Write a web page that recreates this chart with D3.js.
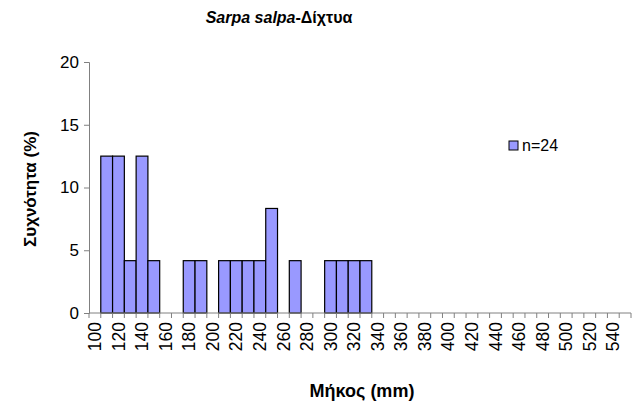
<!DOCTYPE html>
<html>
<head>
<meta charset="utf-8">
<script src="https://cdn.jsdelivr.net/npm/d3@7"></script>
<style>
  body { margin: 0; background: #fff; }
  text { font-family: "Liberation Sans", Arial, sans-serif; }
</style>
</head>
<body>
<div id="chart"></div>
<script>
// Data
const lengths = d3.range(100, 560, 10);          // length classes (mm)
const percent = [
    0, 12.5, 12.5, 4.17, 12.5, 4.17, 0, 0, 4.17, 4.17,
    0, 4.17, 4.17, 4.17, 4.17, 8.33, 0, 4.17, 0, 0,
    4.17, 4.17, 4.17, 4.17, 0, 0, 0, 0, 0, 0,
    0, 0, 0, 0, 0, 0, 0, 0, 0, 0,
    0, 0, 0, 0, 0, 0
];
const yTicks = [0, 5, 10, 15, 20];
const legendLabel = "n=24";

const width = 641;
const height = 405;
const margin = { top: 62, right: 10, bottom: 92, left: 89 };
const plotW = 631 - margin.left;
const plotH = height - margin.top - margin.bottom;

const svg = d3.select("#chart")
    .append("svg")
    .attr("width", width)
    .attr("height", height);

const g = svg.append("g")
    .attr("transform", `translate(${margin.left},${margin.top})`);

// Scales
const x = d3.scaleBand()
    .domain(lengths)
    .range([0, plotW])
    .padding(0);

const y = d3.scaleLinear()
    .domain([0, 20])
    .range([plotH, 0]);

// Bars
g.selectAll("rect.bar")
    .data(lengths.map((d, i) => ({ len: d, val: percent[i] })).filter(d => d.val > 0))
    .join("rect")
    .attr("class", "bar")
    .attr("x", d => x(d.len))
    .attr("y", d => y(d.val))
    .attr("width", x.bandwidth())
    .attr("height", d => y(0) - y(d.val))
    .attr("fill", "#9999ff")
    .attr("stroke", "#000")
    .attr("stroke-width", 1.2);

// Y axis
const yAxis = g.append("g")
    .call(d3.axisLeft(y).tickValues(yTicks).tickSize(5).tickPadding(5));
yAxis.select(".domain").attr("stroke", "#808080");
yAxis.selectAll(".tick line").attr("stroke", "#808080");
yAxis.selectAll("text")
    .attr("font-size", 17)
    .attr("fill", "#000")
    .style("font-family", "Liberation Sans, Arial, sans-serif");

// X axis: ticks on class boundaries, labels every second class
const xAxis = g.append("g").attr("transform", `translate(0,${plotH})`);
xAxis.append("line")
    .attr("x1", 0).attr("x2", plotW)
    .attr("stroke", "#808080");
xAxis.selectAll("line.tk")
    .data(lengths.concat([560]))
    .join("line")
    .attr("class", "tk")
    .attr("x1", d => d === 560 ? plotW : x(d))
    .attr("x2", d => d === 560 ? plotW : x(d))
    .attr("y1", 0).attr("y2", 5)
    .attr("stroke", "#808080");
xAxis.selectAll("text.lbl")
    .data(lengths.filter((d, i) => i % 2 === 0))
    .join("text")
    .attr("class", "lbl")
    .attr("transform", d => `translate(${x(d) + x.bandwidth() / 2},9) rotate(-90)`)
    .attr("text-anchor", "end")
    .attr("dy", "0.35em")
    .attr("font-size", 17.5)
    .text(d => d);

// Titles
svg.append("text")
    .attr("x", 279).attr("y", 23)
    .attr("text-anchor", "middle")
    .attr("font-size", 16)
    .attr("font-weight", "bold")
    .call(t => {
        t.append("tspan").attr("font-style", "italic").text("Sarpa salpa");
        t.append("tspan").text("-Δίχτυα");
    });

svg.append("text")
    .attr("transform", "translate(36,189) rotate(-90)")
    .attr("text-anchor", "middle")
    .attr("font-size", 17)
    .attr("font-weight", "bold")
    .text("Συχνότητα (%)");

svg.append("text")
    .attr("x", 362).attr("y", 397)
    .attr("text-anchor", "middle")
    .attr("font-size", 18)
    .attr("font-weight", "bold")
    .text("Μήκος (mm)");

// Legend
const lg = svg.append("g").attr("transform", "translate(509,141)");
lg.append("rect")
    .attr("width", 9).attr("height", 9)
    .attr("fill", "#9999ff")
    .attr("stroke", "#000");
lg.append("text")
    .attr("x", 13).attr("y", 10)
    .attr("font-size", 16)
    .text(legendLabel);
</script>
</body>
</html>
